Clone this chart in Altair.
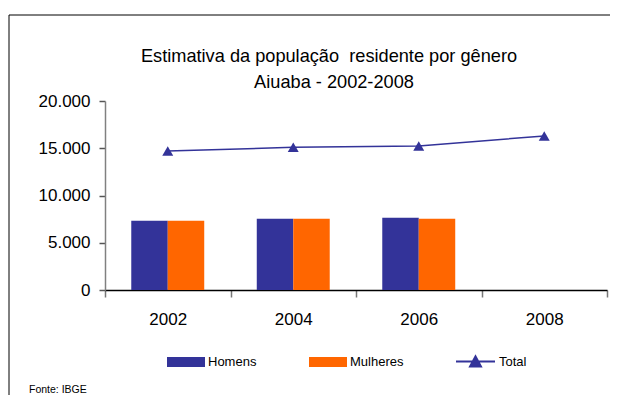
import altair as alt
import pandas as pd

years = ["2002", "2004", "2006", "2008"]
bar_years = ["2002", "2004", "2006"]
homens = [7330, 7540, 7650]
mulheres = [7330, 7540, 7540]
total = [14700, 15100, 15250, 16300]
y_ticks = [0, 5000, 10000, 15000, 20000]
title_line1 = "Estimativa da população\u00a0 residente por gênero"
title_line2 = "Aiuaba - 2002-2008"
source_note = "Fonte: IBGE"

FONT = "Liberation Sans"
BLUE = "#333399"
ORANGE = "#FF6600"

bars_df = pd.DataFrame(
    [{"ano": y, "sexo": "Homens", "valor": v} for y, v in zip(bar_years, homens)]
    + [{"ano": y, "sexo": "Mulheres", "valor": v} for y, v in zip(bar_years, mulheres)]
)
total_df = pd.DataFrame({"ano": years, "valor": total, "serie": ["Total"] * len(years)})

x_scale = alt.Scale(domain=years, paddingInner=0, paddingOuter=0)
y_scale = alt.Scale(domain=[0, 20000], nice=False)

x_axis = alt.Axis(
    title=None, tickBand="extent", labelFont=FONT, labelFontSize=17, labelColor="black",
    labelAngle=0, domainColor="black", domainWidth=1.5, tickColor="#777777", tickSize=7,
    tickWidth=1.5, labelPadding=14, grid=False,
)
y_axis = alt.Axis(
    title=None, values=y_ticks, labelFont=FONT, labelFontSize=17, labelColor="black",
    labelExpr="replace(format(datum.value, ','), ',', '.')",
    domainColor="#808080", domainWidth=1.5, tickColor="#555555", tickSize=6, tickWidth=1.5,
    labelPadding=9, grid=False,
)

bars = alt.Chart(bars_df).mark_bar().encode(
    x=alt.X("ano:N", scale=x_scale, axis=x_axis, sort=years),
    xOffset=alt.XOffset("sexo:N", scale=alt.Scale(domain=["Homens", "Mulheres"], paddingInner=0, paddingOuter=0.72)),
    y=alt.Y("valor:Q", scale=y_scale, axis=y_axis),
    fill=alt.Fill(
        "sexo:N",
        scale=alt.Scale(domain=["Homens", "Mulheres"], range=[BLUE, ORANGE]),
        legend=alt.Legend(
            title=None, orient="none", legendX=62, legendY=242, direction="horizontal",
            symbolType="M-1,-0.263H1V0.263H-1Z", symbolSize=1444, symbolStrokeWidth=0,
            labelFont=FONT, labelFontSize=13, labelColor="black", labelOffset=3,
            columnPadding=52, padding=0,
        ),
    ),
)

line = alt.Chart(total_df).mark_line(strokeWidth=1.5).encode(
    x=alt.X("ano:N", scale=x_scale, sort=years),
    y=alt.Y("valor:Q", scale=y_scale),
    stroke=alt.Stroke(
        "serie:N",
        scale=alt.Scale(domain=["Total"], range=[BLUE]),
        legend=alt.Legend(
            title=None, orient="none", legendX=350, legendY=240, direction="horizontal",
            symbolType="M-1,0H1M-0.28,0.26L0,-0.26L0.28,0.26Z", symbolSize=1521,
            symbolFillColor=BLUE, symbolStrokeColor=BLUE, symbolStrokeWidth=2,
            labelFont=FONT, labelFontSize=13, labelColor="black", labelOffset=3, padding=0,
        ),
    ),
)

points = alt.Chart(total_df).mark_point(shape="triangle-up", filled=True, size=120, color=BLUE, opacity=1).encode(
    x=alt.X("ano:N", scale=x_scale, sort=years),
    y=alt.Y("valor:Q", scale=y_scale),
)

one = alt.Data(values=[{}])
top_border = alt.Chart(one).mark_rule(color="black", strokeWidth=1).encode(
    x=alt.value(-96), x2=alt.value(513), y=alt.value(-86)
)
left_border = alt.Chart(one).mark_rule(color="black", strokeWidth=1).encode(
    x=alt.value(-96), y=alt.value(-86), y2=alt.value(307)
)
title1 = alt.Chart(one).mark_text(align="center", baseline="alphabetic", font=FONT, fontSize=18.2, color="black").encode(
    x=alt.value(224), y=alt.value(-39.5), text=alt.value(title_line1)
)
title2 = alt.Chart(one).mark_text(align="center", baseline="alphabetic", font=FONT, fontSize=18.2, color="black").encode(
    x=alt.value(229), y=alt.value(-13.5), text=alt.value(title_line2)
)
note = alt.Chart(one).mark_text(align="left", baseline="alphabetic", font=FONT, fontSize=10.5, color="black").encode(
    x=alt.value(-76), y=alt.value(292), text=alt.value(source_note)
)

chart = (
    alt.layer(bars, line, points, top_border, left_border, title1, title2, note)
    .resolve_legend(fill="independent", stroke="independent")
    .properties(
        width=502,
        height=189,
        padding={"left": 97, "top": 93, "right": 3, "bottom": 105},
        autosize=alt.AutoSizeParams(type="none"),
    )
    .configure_view(stroke=None)
)

chart.save("out.html", embed_options={"renderer": "svg", "actions": False})
